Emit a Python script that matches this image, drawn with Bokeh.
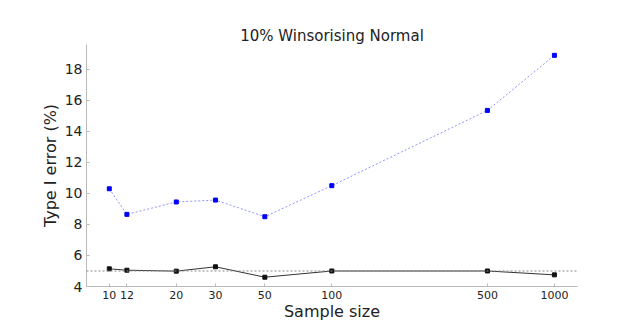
from bokeh.plotting import figure
from bokeh.models import FixedTicker, Span, Range1d
from bokeh.embed import file_html
from bokeh.resources import INLINE

sample_sizes = [10, 12, 20, 30, 50, 100, 500, 1000]
blue_err = [10.3, 8.65, 9.45, 9.57, 8.5, 10.5, 15.35, 18.9]
black_err = [5.14, 5.05, 4.99, 5.27, 4.6, 5.0, 5.0, 4.75]
nominal = 5.0
x_ticks = [10, 12, 20, 30, 50, 100, 500, 1000]
y_ticks = [4, 6, 8, 10, 12, 14, 16, 18]

FONT = "DejaVu Sans"

p = figure(width=619, height=323, x_axis_type="log", output_backend="svg",
           toolbar_location=None, title="10% Winsorising Normal",
           x_range=Range1d(7.9, 1270), y_range=Range1d(4, 19.6),
           min_border_left=86, min_border_right=42, min_border_top=44, min_border_bottom=28)

p.title.align = "center"
p.title.text_font = FONT
p.title.text_font_size = "15px"
p.title.text_font_style = "normal"
p.title.text_color = "#222222"
p.title.standoff = 0

p.outline_line_color = None
p.grid.visible = False
p.background_fill_color = "white"

for ax in (p.xaxis, p.yaxis):
    ax.axis_line_color = "#bbbbbb"
    ax.major_tick_line_color = "#bbbbbb"
    ax.minor_tick_line_color = None
    ax.major_tick_in = 3
    ax.major_tick_out = 0
    ax.major_label_text_font = FONT
    ax.major_label_text_color = "#222222"
    ax.axis_label_text_font = FONT
    ax.axis_label_text_font_style = "normal"
    ax.axis_label_text_color = "#222222"
    ax.axis_label_text_font_size = "16px"

p.xaxis.ticker = FixedTicker(ticks=x_ticks)
p.xaxis.major_label_overrides = {t: str(t) for t in x_ticks}
p.xaxis.major_label_text_font_size = "11px"
p.xaxis.major_label_standoff = 4
p.yaxis.ticker = FixedTicker(ticks=y_ticks)
p.yaxis.major_label_text_font_size = "14px"
p.yaxis.major_label_standoff = 4
p.xaxis.axis_label = "Sample size"
p.yaxis.axis_label = "Type I error (%)"
p.xaxis.axis_label_standoff = 0
p.yaxis.axis_label_standoff = 2

p.add_layout(Span(location=nominal, dimension="width", line_color="#888888",
                  line_dash="2 2", line_width=1))

p.line(sample_sizes, blue_err, line_color="#7777ff", line_width=1, line_dash="2 2", line_alpha=0.8)
p.scatter(sample_sizes, blue_err, marker="square", size=4, color="#0000ff")

p.line(sample_sizes, black_err, line_color="#333333", line_width=1)
p.scatter(sample_sizes, black_err, marker="square", size=4, color="#111111")

open("out.html", "w").write(file_html(p, INLINE))
